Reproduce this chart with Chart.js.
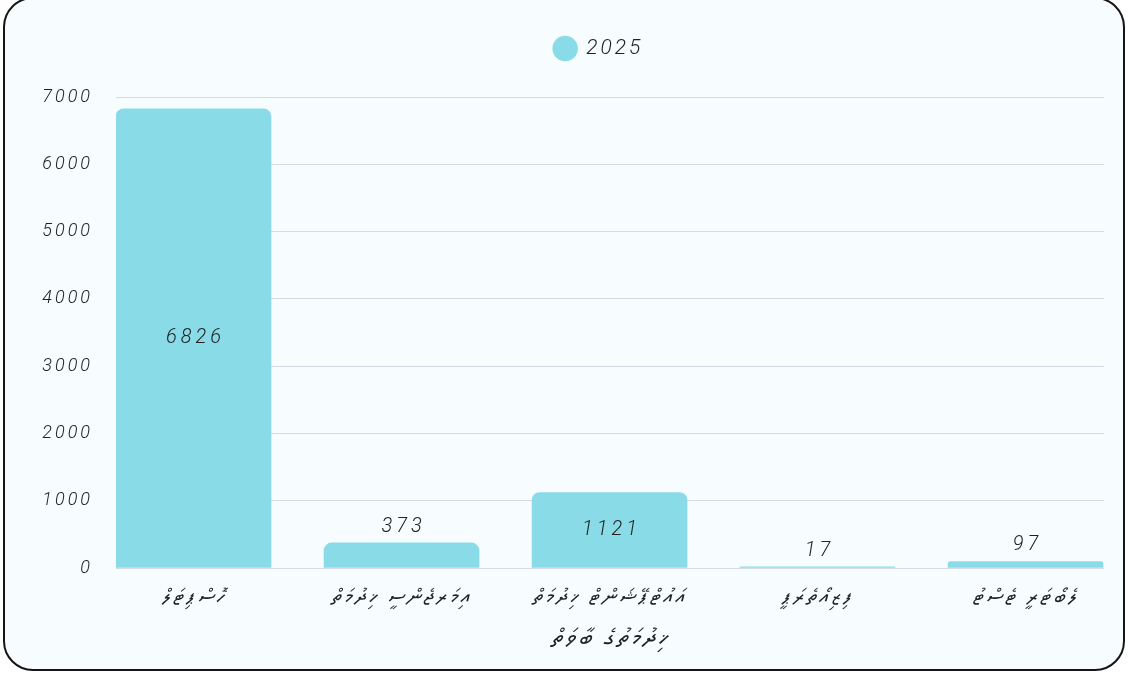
<!DOCTYPE html>
<html>
<head>
<meta charset="utf-8">
<script src="https://cdn.jsdelivr.net/npm/chart.js@4.4.1/dist/chart.umd.min.js"></script>
<style>
  html, body { margin: 0; padding: 0; background: #fff; overflow: hidden; }
  #card { position: absolute; left: 3px; top: -3px; width: 1118px; height: 670px;
          border: 2.5px solid #151515; border-radius: 30px; background: #f7fcfe; }
  #wrap { position: absolute; left: 0; top: 0; width: 1128px; height: 675px; }
</style>
</head>
<body>
<div id="card"></div>
<div id="wrap"><canvas id="chart"></canvas></div>
<script>
// data
const categories = ['ހޮސްޕިޓަލް', 'އިމަރޖެންސީ ޚިދުމަތް', 'އައުޓްޕޭޝަންޓް ޚިދުމަތް', 'ފިޒިއޯތެރަޕީ', 'ލެބޯޓަރީ ޓެސްޓު'];
const values2025 = [6826, 373, 1121, 17, 97];
const yTicks = [0, 1000, 2000, 3000, 4000, 5000, 6000, 7000];
const seriesName = '2025';
const xTitle = 'ޚިދުމަތުގެ ބާވަތް';

const numFont = "'Roboto', 'DejaVu Sans', sans-serif";
const dvFont = "'Noto Sans Thaana', 'MV Boli', 'Faruma', 'DejaVu Sans', sans-serif";
const barColor = '#8adbe8';

// numbers on the bars: inside when the bar is tall, above otherwise
const valueLabels = {
  id: 'valueLabels',
  afterDatasetsDraw(chart) {
    const ctx = chart.ctx;
    const meta = chart.getDatasetMeta(0);
    ctx.save();
    ctx.font = 'italic 300 20px ' + numFont;
    ctx.fillStyle = '#222';
    ctx.textAlign = 'center';
    ctx.textBaseline = 'middle';
    ctx.letterSpacing = '4px';
    meta.data.forEach((bar, i) => {
      const h = bar.base - bar.y;
      const y = h > 40 ? (bar.y + bar.base) / 2 : bar.y - 16;
      ctx.fillText(String(values2025[i]), bar.x + 2, y);
    });
    ctx.restore();
  }
};

// a bit more room under the legend, and legend centred over the plot
const legendTweak = {
  id: 'legendTweak',
  beforeLayout(chart) {
    const lg = chart.legend;
    if (lg && !lg._patched) {
      const fit = lg.fit;
      lg.fit = function () { fit.call(this); this.height += 28; };
      lg._patched = true;
    }
  },
  afterLayout(chart) {
    if (chart.legend) chart.legend.left += 82;
  },
  beforeDraw(chart) {
    chart.ctx.letterSpacing = '3px';
  }
};

const ctx = document.getElementById('chart').getContext('2d');
const myChart = new Chart(ctx, {
  type: 'bar',
  data: {
    datasets: [{
      label: seriesName,
      data: values2025.map((v, i) => ({ x: i, y: v })),
      backgroundColor: barColor,
      borderWidth: 0,
      borderRadius: 8,
      barThickness: 155
    }]
  },
  options: {
    responsive: true,
    maintainAspectRatio: false,
    animation: false,
    layout: { padding: { top: 28, right: 24, bottom: 0, left: 0 } },
    plugins: {
      legend: {
        position: 'top',
        labels: {
          usePointStyle: true,
          pointStyle: 'circle',
          boxHeight: 18,
          padding: 10,
          color: '#222',
          font: { family: numFont, size: 21, style: 'italic', weight: 300 }
        }
      },
      tooltip: { enabled: false }
    },
    scales: {
      x: {
        type: 'linear',
        offset: false,
        min: -0.3726,
        max: 4.377,
        afterBuildTicks: s => { s.ticks = categories.map((_, i) => ({ value: i })); },
        afterFit: s => { s.height = 107; },
        grid: { display: false, drawTicks: false },
        border: { display: false },
        ticks: {
          padding: 18,
          maxRotation: 0,
          autoSkip: false,
          color: '#222',
          font: { family: dvFont, size: 21, style: 'italic' },
          callback: v => categories[v] ?? ''
        },
        title: {
          display: true,
          text: xTitle,
          color: '#222',
          padding: { top: 0, bottom: 21 },
          font: { family: dvFont, size: 24, style: 'italic' }
        }
      },
      y: {
        min: 0,
        max: 7000,
        afterBuildTicks: s => { s.ticks = yTicks.map(v => ({ value: v })); },
        afterFit: s => { s.width = 116; },
        grid: { color: '#d3dce4', lineWidth: 1, drawTicks: false },
        border: { display: false },
        ticks: {
          padding: 23,
          color: '#222',
          font: { family: numFont, size: 18, style: 'italic', weight: 300 },
          callback: v => String(v)
        }
      }
    }
  },
  plugins: [valueLabels, legendTweak]
});
</script>
</body>
</html>
